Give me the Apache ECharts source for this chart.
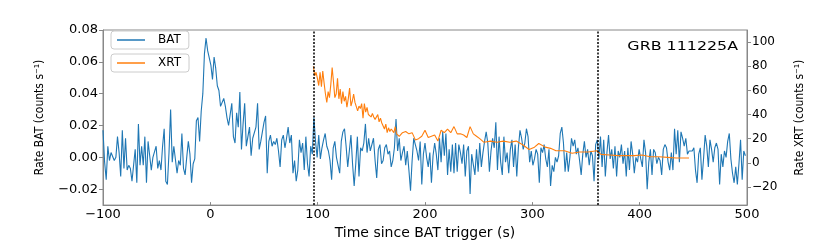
<!DOCTYPE html>
<html><head><meta charset="utf-8">
<script src="https://cdn.jsdelivr.net/npm/echarts@6/dist/echarts.min.js"></script>
<style>html,body{margin:0;padding:0;background:#fff}#c{width:830px;height:245px}</style>
</head><body><div id="c"></div><script>
// BAT light curve: regular bins starting at batStart, width batStep (s)
const batStart = -100, batStep = 1.5;
const batRate = [
0.017,-0.003,-0.014,0.007,-0.002,0.003,0.003,-0.002,0.000,0.013,
0.003,-0.012,0.017,-0.007,0.012,-0.008,-0.005,-0.007,-0.015,-0.005,
0.005,-0.016,0.021,-0.005,0.007,-0.005,0.013,-0.016,0.010,0.001,
-0.008,0.000,-0.001,0.007,-0.007,-0.002,-0.008,0.007,0.018,-0.015,
-0.017,0.003,0.030,-0.003,0.007,0.006,-0.010,-0.002,-0.005,0.015,
-0.007,-0.011,0.000,0.010,0.002,-0.016,-0.004,-0.001,0.023,0.025,
0.010,0.029,0.040,
0.065,0.075,0.067,
0.068,0.058,0.049,0.063,0.056,0.045,0.042,0.032,0.032,0.037,
0.032,0.025,0.020,0.027,0.034,0.013,0.009,0.028,0.019,0.041,
0.005,0.021,0.034,0.007,0.013,0.019,0.001,0.012,0.011,0.019,
0.034,0.005,0.010,0.009,0.022,0.026,-0.010,0.010,0.014,0.007,
0.010,0.008,0.012,0.004,-0.006,0.011,0.014,0.006,0.012,0.019,
0.009,0.014,-0.010,-0.002,-0.015,-0.008,0.011,0.003,0.009,-0.008,
0.013,-0.004,-0.012,0.007,0.002,
0.025,0.010,0.000,0.014,-0.001,0.006,0.011,0.015,0.007,0.004,
-0.002,-0.014,0.006,0.010,0.000,-0.001,-0.010,0.010,0.016,0.018,
0.007,-0.006,0.004,0.014,-0.004,-0.018,-0.004,0.013,-0.012,0.006,
0.004,0.009,0.021,0.003,0.012,0.004,0.008,0.012,-0.002,-0.013,
0.005,0.008,-0.004,-0.002,0.006,0.008,0.002,0.004,-0.006,-0.002,
0.006,0.024,0.004,0.012,-0.002,0.003,0.007,-0.005,0.004,-0.008,
-0.021,-0.002,0.012,0.008,0.004,-0.002,0.010,
-0.017,0.002,0.009,0.000,-0.006,0.003,-0.016,0.001,0.009,0.002,
-0.008,0.012,-0.003,0.016,0.001,0.015,-0.011,0.005,-0.009,0.008,
-0.010,0.009,-0.009,0.008,0.003,-0.004,0.008,-0.012,0.004,0.007,
-0.023,0.002,0.001,-0.011,0.005,-0.009,0.009,-0.006,0.003,0.010,
0.016,0.009,-0.009,0.004,0.012,0.006,0.022,-0.008,0.013,-0.003,
-0.011,0.013,-0.003,0.003,-0.010,0.005,0.011,-0.006,0.008,-0.012,
0.006,0.017,0.012,0.005,0.009,
0.018,0.013,-0.003,0.004,-0.005,-0.001,0.005,0.002,-0.016,0.006,
0.003,0.008,-0.001,-0.006,0.005,-0.018,-0.005,-0.009,0.000,-0.003,
0.001,0.015,0.019,0.009,-0.009,0.003,-0.009,0.000,0.012,0.007,
0.011,0.002,0.006,-0.002,-0.011,0.002,0.010,0.000,0.005,-0.005,
0.004,0.001,-0.015,0.008,0.011,-0.001,0.013,-0.006,0.011,-0.012,
0.003,0.014,-0.001,0.005,-0.007,0.007,-0.012,0.004,0.000,0.008,
-0.004,0.004,-0.012,0.006,-0.008,0.010,
0.002,-0.010,0.000,-0.003,0.005,-0.001,-0.006,0.011,0.003,-0.020,
-0.003,0.005,-0.011,0.005,0.003,-0.004,0.000,-0.002,-0.011,0.005,
0.008,0.006,-0.003,-0.008,0.003,-0.008,0.018,0.002,0.017,-0.003,
0.016,0.012,0.007,0.012,0.002,0.004,0.005,0.004,0.006,-0.008,
-0.016,0.002,0.006,-0.014,-0.001,0.014,0.007,-0.006,0.011,0.005,
-0.003,0.006,0.009,0.005,-0.017,0.002,-0.006,0.004,0.000,0.010,
0.015,-0.001,-0.010,-0.016,-0.006,-0.017,-0.004,0.011,-0.014,0.004,
0.001
];
// XRT light curve (counts/s): dense regular bins, then listed bins
const xrtDenseStart = 96, xrtDenseStep = 1.25;
const xrtDenseRate = [
80,72,75,70,64,75,63,76,66,57,
50,59,54,65,79,67,54,57,70,53,
61,49,59,51,55,46,53,62,47,51,
57,50,50,43,47,45,49,37,49,42,
46,40,41,38,41,38,36,37,40,34,
37,33,34,28,32,25,29,26,28,29,
25,30,24
];
const xrtMidTime = [176,179,182,185,188,191,194,197,200,203,206,209,212,215,218,221,224,227,230,233,236,239,242,245,248,251];
const xrtMidRate = [22,25,26,24,25,19,20,22,27,21,22,23,18,27,25,28,25,30,24,24,23,21,30,24,22,20];
const xrtLateTime = [255,261,267,273,279,285,291,297,302,306,312,317,322,330,337,344,352,360,364,372,380,388,395,402,410,418,426,434,446];
const xrtLateRate = [17,18,17,18,17,18,15,11,13,16,13,12,10,10,8,9,9,10,7,6.5,6,6,6,6.5,5,5,4.5,4,4];
// vertical markers (s)
const markerTimes = [96, 361];
// tick labels
const xTicks = [-100,0,100,200,300,400,500];
const batTicks = [-0.02,0.00,0.02,0.04,0.06,0.08];
const xrtTicks = [-20,0,20,40,60,80,100];

const batData = batRate.map((v,i)=>[batStart+i*batStep, v]);
const xrtData = xrtDenseRate.map((v,i)=>[xrtDenseStart+i*xrtDenseStep, v])
  .concat(xrtMidTime.map((t,i)=>[t, xrtMidRate[i]]))
  .concat(xrtLateTime.map((t,i)=>[t, xrtLateRate[i]]));

const minus = s => String(s).replace('-', '\u2212');
const F = 'DejaVu Sans';
const axisGray = '#888';
const nameFont = "'Liberation Sans Narrow','DejaVu Sans Condensed',sans-serif";

const chart = echarts.init(document.getElementById('c'));
chart.setOption({
  animation:false,
  backgroundColor:'#fff',
  grid:{left:103,right:83,top:30,bottom:32,show:true,borderColor:axisGray,borderWidth:1},
  xAxis:{type:'value',min:-100,max:500,interval:100,
    axisLine:{onZero:false,lineStyle:{color:axisGray}},
    axisTick:{inside:true,length:3,customValues:xTicks,lineStyle:{color:axisGray}},
    axisLabel:{color:'#000',fontFamily:F,fontSize:13,margin:3,customValues:xTicks,formatter:v=>minus(v)},
    splitLine:{show:false},
    name:'Time since BAT trigger (s)',nameLocation:'middle',nameGap:16,
    nameTextStyle:{color:'#000',fontFamily:F,fontSize:14}},
  yAxis:[
    {type:'value',min:-0.030,max:0.08,position:'left',
     axisLine:{show:true,onZero:false,lineStyle:{color:axisGray}},
     axisTick:{show:true,length:4,customValues:batTicks,lineStyle:{color:axisGray}},
     axisLabel:{color:'#000',fontFamily:F,fontSize:13,margin:5,customValues:batTicks,formatter:v=>minus(Number(v).toFixed(2))},
     splitLine:{show:false},
     name:'Rate BAT (counts s\u207B\u00B9)',nameLocation:'middle',nameRotate:90,nameGap:57,
     nameTextStyle:{color:'#000',fontFamily:nameFont,fontSize:12}},
    {type:'value',min:-35,max:110,position:'right',
     axisLine:{show:true,onZero:false,lineStyle:{color:axisGray}},
     axisTick:{show:true,length:4,customValues:xrtTicks,lineStyle:{color:axisGray}},
     axisLabel:{color:'#000',fontFamily:F,fontSize:12,margin:5,customValues:xrtTicks,formatter:v=>minus(v)},
     splitLine:{show:false},
     name:'Rate XRT (counts s\u207B\u00B9)',nameLocation:'middle',nameRotate:90,nameGap:47,
     nameTextStyle:{color:'#000',fontFamily:nameFont,fontSize:12}}
  ],
  legend:[
    {data:['BAT'],left:111,top:31,orient:'vertical',icon:'rect',itemWidth:28,itemHeight:1.5,
     padding:[3,8,3,6],backgroundColor:'#fff',borderColor:'#ccc',borderWidth:1,borderRadius:3,
     textStyle:{color:'#000',fontFamily:F,fontSize:12,padding:[0,0,0,8]}},
    {data:['XRT'],left:111,top:54,orient:'vertical',icon:'rect',itemWidth:28,itemHeight:1.5,
     padding:[3,8,3,6],backgroundColor:'#fff',borderColor:'#ccc',borderWidth:1,borderRadius:3,
     textStyle:{color:'#000',fontFamily:F,fontSize:12,padding:[0,0,0,8]}}
  ],
  graphic:[{type:'text',x:738,y:47,scaleX:1.22,style:{text:'GRB 111225A',textAlign:'right',textVerticalAlign:'middle',
    font:'13px "DejaVu Sans"',fill:'#000'}}],
  series:[
    {name:'BAT',type:'line',yAxisIndex:0,data:batData,showSymbol:false,symbol:'none',
     lineStyle:{color:'#1f77b4',width:1.1},itemStyle:{color:'#1f77b4'},z:2,
     markLine:{silent:true,symbol:'none',label:{show:false},
       lineStyle:{color:'#000',width:1.5,type:[2,1.5]},
       data:markerTimes.map(t=>({xAxis:t}))}},
    {name:'XRT',type:'line',yAxisIndex:1,data:xrtData,showSymbol:false,symbol:'none',
     lineStyle:{color:'#ff7f0e',width:1.1},itemStyle:{color:'#ff7f0e'},z:3}
  ]
});
</script></body></html>
